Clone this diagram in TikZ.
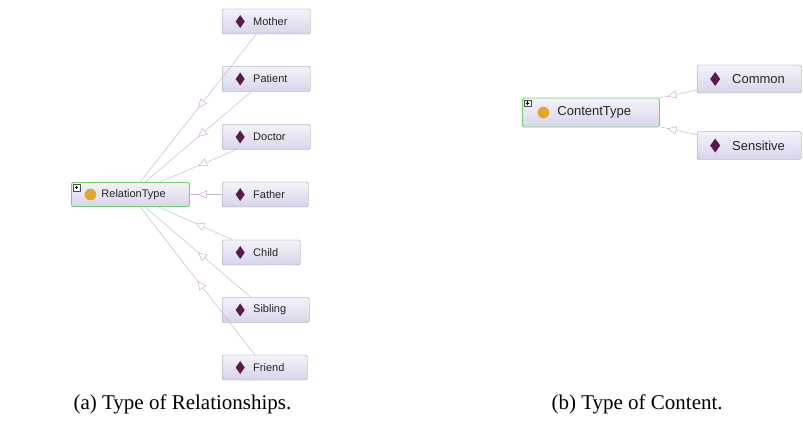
\documentclass[tikz,border=0pt]{standalone}
\usepackage{fontspec}
\setmainfont{Liberation Serif}
\newfontfamily\boxfont{Liberation Sans}
\usetikzlibrary{arrows.meta,decorations.markings}
\definecolor{boxtop}{HTML}{F4F3FA}
\definecolor{boxbot}{HTML}{D8D5EA}
\definecolor{boxline}{HTML}{8E8C9E}
\definecolor{classline}{HTML}{6FD46F}
\definecolor{diamondcol}{HTML}{5A1A4E}
\definecolor{circlecol}{HTML}{DEA62C}
\definecolor{linkcol}{HTML}{C8BACB}
\definecolor{tipcol}{HTML}{D0A8D4}

\begin{document}
\begin{tikzpicture}
[x=1pt,y=1pt,
boxbase/.style={rounded corners=1.5pt,top color=boxtop,bottom color=boxbot,anchor=west,inner xsep=0pt,text width=#1,align=left,text=black!85},
indiv/.style={boxbase=#1,draw=boxline,minimum height=25pt,font=\boxfont\fontsize{11}{13}\selectfont,execute at begin node=\hspace*{31pt},path picture={\fill[diamondcol,sharp corners] ([xshift=18pt]path picture bounding box.west) +(0,6.5) -- +(4.5,0) -- +(0,-6.5) -- +(-4.5,0) -- cycle;}},
indiv/.default=88pt,
bigindiv/.style={boxbase=#1,draw=boxline,minimum height=28pt,font=\boxfont\fontsize{13}{15}\selectfont,execute at begin node=\hspace*{35pt},path picture={\fill[diamondcol,sharp corners] ([xshift=18pt]path picture bounding box.west) +(0,7) -- +(5,0) -- +(0,-7) -- +(-5,0) -- cycle;}},
classicon/.style={path picture={
\fill[circlecol] ([xshift=#1]path picture bounding box.west) circle (5.8pt);
\draw[black!70,fill=white,line width=0.4pt,sharp corners] ([xshift=2pt,yshift=-2pt]path picture bounding box.north west) rectangle +(6.5,-6.5);
\draw[black,line width=0.5pt] ([xshift=2pt,yshift=-2pt]path picture bounding box.north west) +(1.5,-3.25) -- +(5,-3.25) +(3.25,-1.5) -- +(3.25,-5);}},
class/.style={boxbase=#1,draw=classline,line width=0.9pt,minimum height=24pt,font=\boxfont\fontsize{11}{13}\selectfont,execute at begin node=\hspace*{30pt},classicon=19pt},
bigclass/.style={boxbase=#1,draw=classline,line width=0.9pt,minimum height=29pt,font=\boxfont\fontsize{13}{15}\selectfont,execute at begin node=\hspace*{35pt},classicon=21pt},
isa/.style={draw=linkcol,line width=0.5pt,postaction={decorate,decoration={markings,mark=at position #1 with {\arrow{Triangle[length=9pt,width=8pt,fill=white,color=tipcol,line width=0.5pt]}}}}},
isa/.default=0.5,
caption/.style={anchor=base west,font=\fontsize{21}{25}\selectfont}]
\useasboundingbox (0,0) rectangle (803,423);

\node[class=118pt] (rel) at (71,228.5) {RelationType};
\node[indiv] (mother) at (222,401.5) {Mother};
\node[indiv] (patient) at (222,344) {Patient};
\node[indiv] (doctor) at (222,286) {Doctor};
\node[indiv=86pt] (father) at (222,228.5) {Father};
\node[indiv=78pt] (child) at (222,170.5) {Child};
\node[indiv=87pt] (sibling) at (222,113) {Sibling};
\node[indiv=85pt] (friend) at (222,55.5) {Friend};

\node[bigclass=137pt] (content) at (522,310.5) {ContentType};
\node[bigindiv=104pt] (common) at (697,344) {Common};
\node[bigindiv=104pt] (sensitive) at (697,277.5) {Sensitive};

\draw [isa] (mother) -- (rel);
\draw [isa] (patient) -- (rel);
\draw [isa] (doctor) -- (rel);
\draw [isa=0.75] (father) -- (rel);
\draw [isa] (child) -- (rel);
\draw [isa] (sibling) -- (rel);
\draw [isa] (friend) -- (rel);
\draw [isa=0.8] (common) -- (content);
\draw [isa=0.8] (sensitive) -- (content);

\node[caption] (capa) at (70,14) {(a) Type of Relationships.};
\node[caption] (capb) at (548,14) {(b) Type of Content.};
\end{tikzpicture}
\end{document}
